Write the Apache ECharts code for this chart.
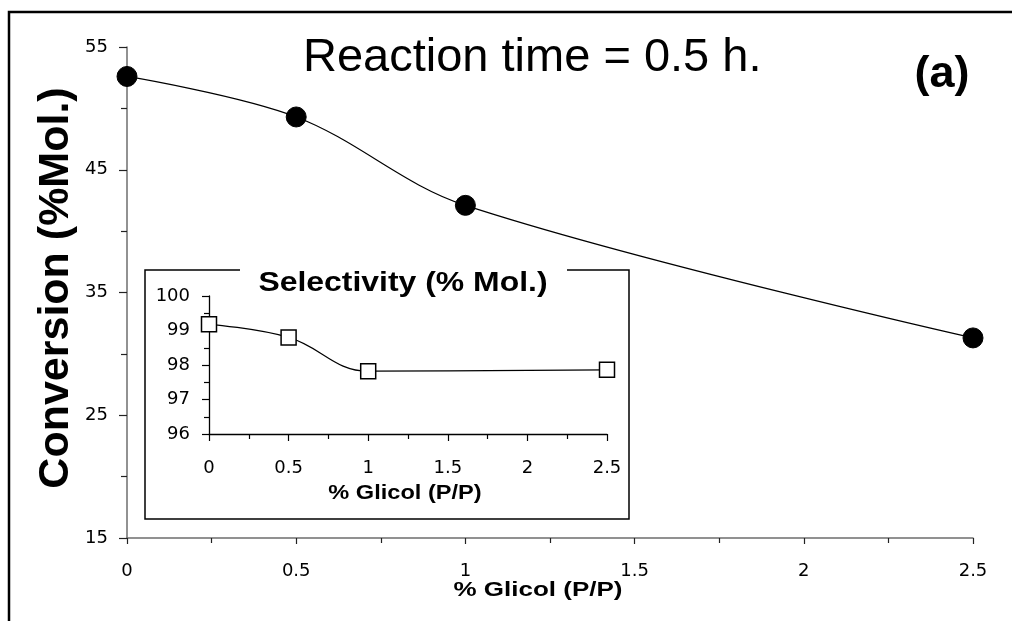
<!DOCTYPE html>
<html>
<head>
<meta charset="utf-8">
<script src="https://cdn.jsdelivr.net/npm/echarts@6/dist/echarts.min.js"></script>
<style>
  html, body { margin: 0; padding: 0; background: #fff; }
  #chart { width: 1012px; height: 621px; }
</style>
</head>
<body>
<div id="chart"></div>
<script>
// Glycol loading (% w/w) and the measured responses
const glicol = [0, 0.5, 1, 2.5];
const conversion = [52.6, 49.3, 42.1, 31.3];   // % Mol.
const selectivity = [99.18, 98.8, 97.82, 97.86]; // % Mol.

const xTicks = ['0', '0.5', '1', '1.5', '2', '2.5'];

const FONT = '"Liberation Sans", Arial, sans-serif';
const TICK_FONT = '"DejaVu Sans", sans-serif';

const pairs = (xs, ys) => xs.map((x, i) => [x, ys[i]]);
const fmtX = v => {
  const i = Math.round(v / 0.5);
  return xTicks[i] !== undefined ? xTicks[i] : String(v);
};

// horizontally widened text block, centred on (x, y)
const wideText = (text, x, y, font, sx, rotation) => ({
  type: 'text', z: 2, silent: true, x, y, scaleX: sx || 1, rotation: rotation || 0,
  style: { text, x: 0, y: 0, align: 'center', verticalAlign: 'middle', font, fill: '#000' }
});

const chart = echarts.init(document.getElementById('chart'), null, { renderer: 'canvas' });

chart.setOption({
  backgroundColor: '#fff',
  animation: false,
  grid: [
    { left: 127, right: 39, top: 47, bottom: 83 },
    { left: 209, right: 405, top: 296, bottom: 187 }
  ],
  xAxis: [
    {
      gridIndex: 0, type: 'value', min: 0, max: 2.5, interval: 0.5,
      axisLine: { lineStyle: { color: '#6e6e6e', width: 1.5 } },
      axisTick: { inside: false, length: 6, lineStyle: { color: '#222', width: 1.2 } },
      minorTick: { show: true, splitNumber: 2, length: 5, lineStyle: { color: '#222', width: 1.2 } },
      splitLine: { show: false },
      axisLabel: { margin: 24, fontSize: 18, color: '#000', fontFamily: TICK_FONT, formatter: fmtX }
    },
    {
      gridIndex: 1, type: 'value', min: 0, max: 2.5, interval: 0.5,
      axisLine: { lineStyle: { color: '#000', width: 1.3 } },
      axisTick: { inside: false, length: 7, lineStyle: { color: '#000', width: 1.2 } },
      minorTick: { show: true, splitNumber: 2, length: 5, lineStyle: { color: '#000', width: 1.2 } },
      splitLine: { show: false },
      axisLabel: { margin: 25, fontSize: 18, color: '#000', fontFamily: TICK_FONT, formatter: fmtX }
    }
  ],
  yAxis: [
    {
      gridIndex: 0, type: 'value', min: 15, max: 55, interval: 10,
      axisLine: { show: true, lineStyle: { color: '#6e6e6e', width: 1.5 } },
      axisTick: { show: true, inside: false, length: 8, lineStyle: { color: '#222', width: 1.2 } },
      minorTick: { show: true, splitNumber: 2, length: 6, lineStyle: { color: '#222', width: 1.2 } },
      splitLine: { show: false },
      axisLabel: { margin: 19, fontSize: 18, color: '#000', fontFamily: TICK_FONT }
    },
    {
      gridIndex: 1, type: 'value', min: 96, max: 100, interval: 1,
      axisLine: { show: true, lineStyle: { color: '#000', width: 1.3 } },
      axisTick: { show: true, inside: false, length: 7, lineStyle: { color: '#000', width: 1.2 } },
      minorTick: { show: true, splitNumber: 2, length: 5, lineStyle: { color: '#000', width: 1.2 } },
      splitLine: { show: false },
      axisLabel: { margin: 19, fontSize: 18, color: '#000', fontFamily: TICK_FONT }
    }
  ],
  graphic: [
    // outer frame (left and top edges)
    { type: 'polyline', z: 0, silent: true,
      shape: { points: [[9, 621], [9, 12], [1012, 12]] },
      style: { stroke: '#000', lineWidth: 2.5, fill: null } },
    // inset frame
    { type: 'rect', z: 0, silent: true,
      shape: { x: 145, y: 270, width: 484, height: 249 },
      style: { stroke: '#000', lineWidth: 1.5, fill: '#fff' } },
    // gap in the inset frame behind its title
    { type: 'rect', z: 1, silent: true,
      shape: { x: 240, y: 262, width: 327, height: 18 },
      style: { fill: '#fff', stroke: null } },
    wideText('Selectivity (% Mol.)', 403, 283, 'bold 28px ' + FONT, 1.14),
    // main title and panel tag
    { type: 'text', z: 2, silent: true,
      style: { text: 'Reaction time = 0.5 h.', x: 303, y: 58, align: 'left', verticalAlign: 'middle',
        font: '47px ' + FONT, fill: '#000' } },
    wideText('(a)', 942, 75, 'bold 45px ' + FONT, 1),
    // axis titles
    wideText('Conversion (%Mol.)', 56, 288, 'bold 43px ' + FONT, 1, Math.PI / 2),
    wideText('% Glicol (P/P)', 538, 590, 'bold 20px ' + FONT, 1.3),
    wideText('% Glicol (P/P)', 405, 493, 'bold 20px ' + FONT, 1.18)
  ],
  series: [
    {
      type: 'line', xAxisIndex: 0, yAxisIndex: 0, z: 3,
      data: pairs(glicol, conversion),
      smooth: 0.35,
      symbol: 'circle', symbolSize: 20,
      itemStyle: { color: '#000', borderColor: '#000' },
      lineStyle: { color: '#000', width: 1.2 }
    },
    {
      type: 'line', xAxisIndex: 1, yAxisIndex: 1, z: 3,
      data: pairs(glicol, selectivity),
      smooth: 0.4,
      symbol: 'rect', symbolSize: 15,
      itemStyle: { color: '#fff', borderColor: '#000', borderWidth: 1.5 },
      lineStyle: { color: '#000', width: 1.2 }
    }
  ]
});
</script>
</body>
</html>
